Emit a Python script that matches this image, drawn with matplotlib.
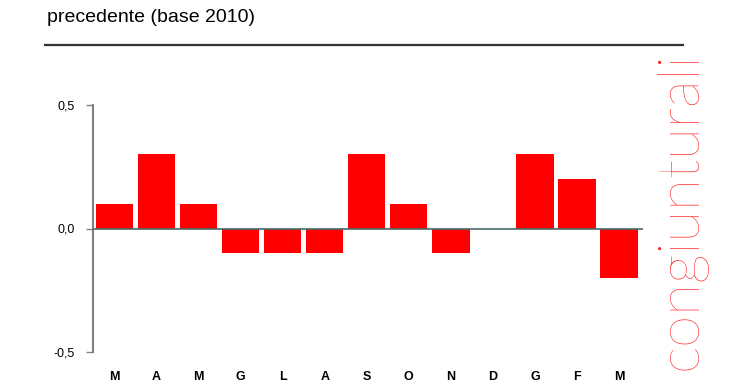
import numpy as np
import matplotlib.pyplot as plt

# mesi e variazioni congiunturali
mesi = ['M', 'A', 'M', 'G', 'L', 'A', 'S', 'O', 'N', 'D', 'G', 'F', 'M']
valori = [0.1, 0.3, 0.1, -0.1, -0.1, -0.1, 0.3, 0.1, -0.1, 0.0, 0.3, 0.2, -0.2]
yticks = [-0.5, 0.0, 0.5]
ylabels = ['-0,5', '0,0', '0,5']

fig = plt.figure(figsize=(7.4, 3.89), dpi=100)
ax = fig.add_axes([93/740, 1-352/389, 550/740, 247/389])

x = np.arange(len(mesi))
ax.bar(x, valori, width=0.89, color='#ff0000', zorder=2)
ax.axhline(0, color='#4a6a6a', lw=1.2, zorder=3)

ax.set_xlim(-0.51, 12.57)
ax.set_ylim(-0.5, 0.5)
ax.set_yticks(yticks)
ax.set_yticklabels(ylabels, fontsize=9, family='Liberation Sans')
ax.set_xticks(x)
ax.set_xticklabels(mesi, fontsize=9, fontweight='bold',
                   family=['Liberation Sans Narrow', 'Liberation Sans'])
ax.tick_params(axis='x', length=0, pad=14)
ax.tick_params(axis='y', length=5, width=1, color='#808080', pad=8)
for s in ['top', 'right', 'bottom']:
    ax.spines[s].set_visible(False)
ax.spines['left'].set_color('#808080')
ax.spines['left'].set_linewidth(1.5)

fig.text(47/740, 1-18/389, 'precedente (base 2010)', fontsize=14,
         family='Liberation Sans', va='center', ha='left')
fig.add_artist(plt.Line2D([45/740, 683/740], [1-45/389, 1-45/389],
                          color='#333333', lw=1.6))

fig.text(680/740, 1-211/389, 'congiunturali', rotation=90, color='#ff2020',
         fontsize=42, family='Lato', fontweight='light', ha='center', va='center')

fig.savefig('out.png', dpi=100)
